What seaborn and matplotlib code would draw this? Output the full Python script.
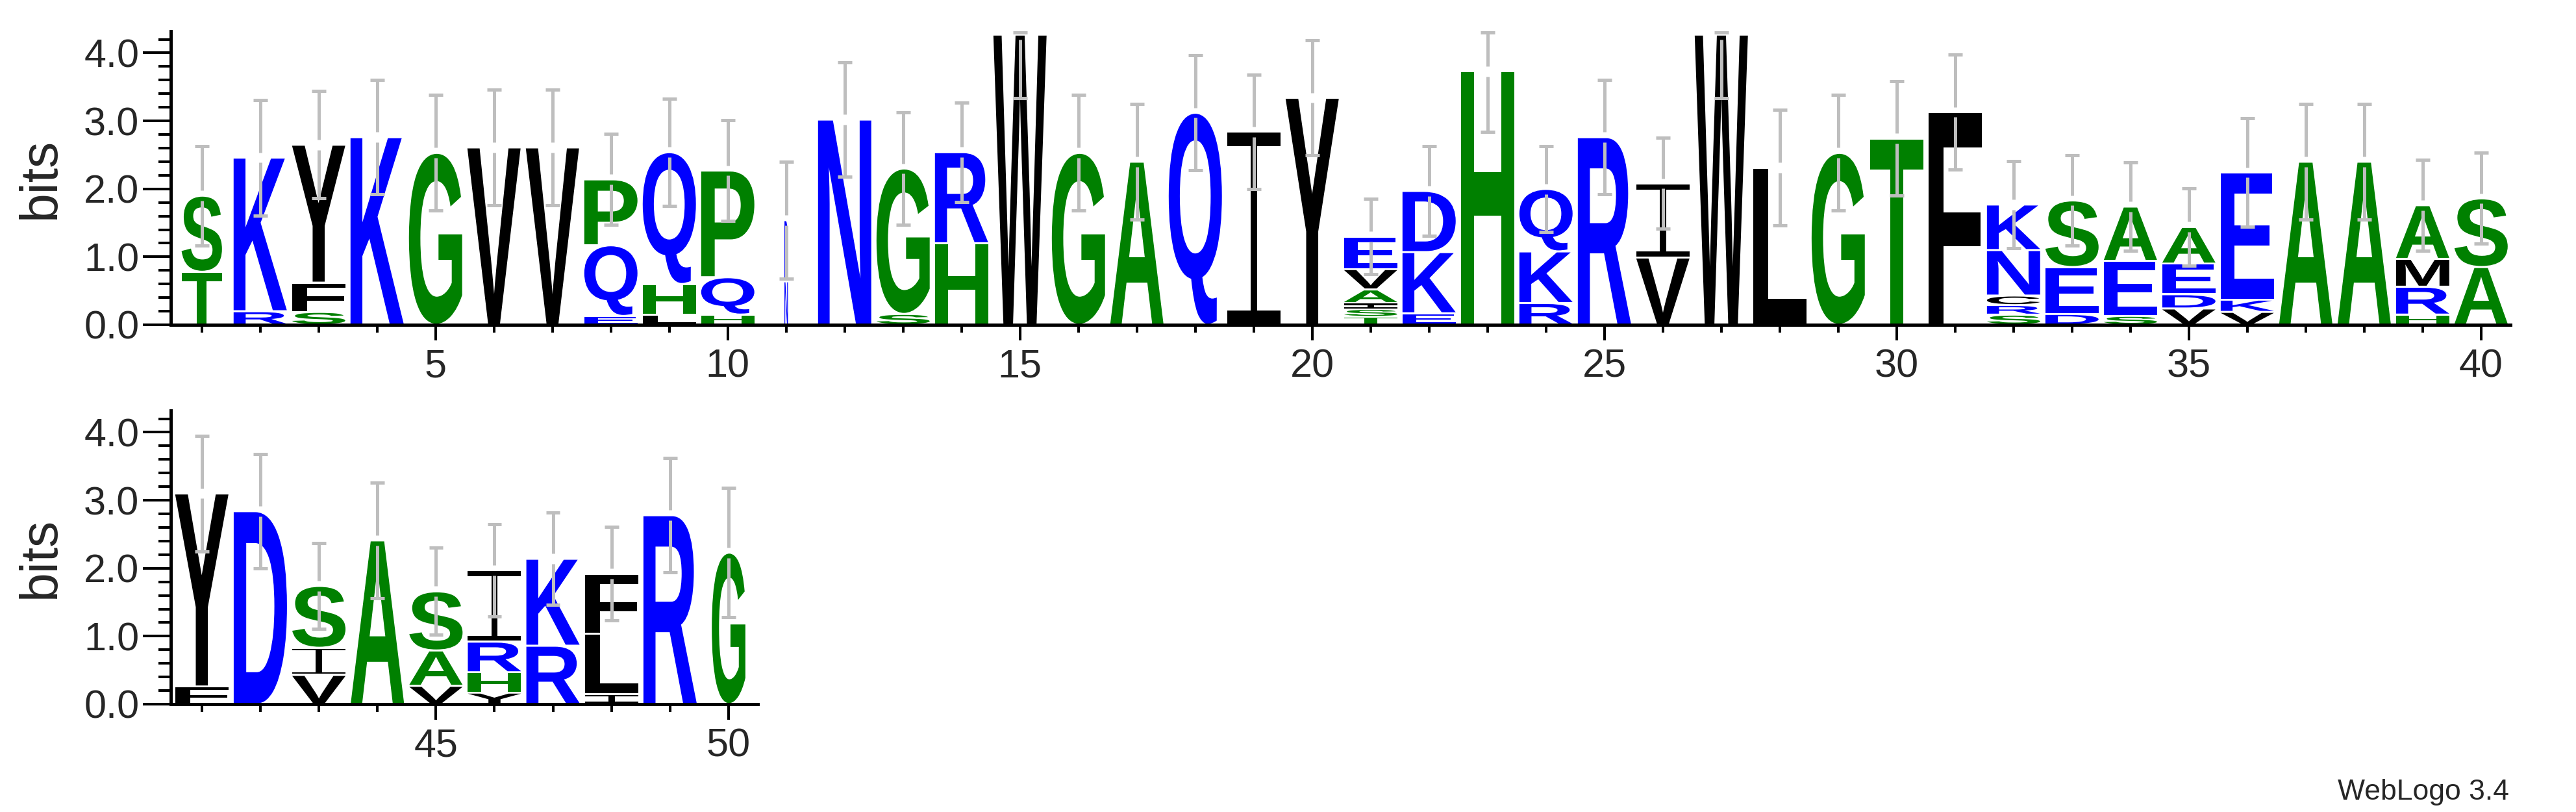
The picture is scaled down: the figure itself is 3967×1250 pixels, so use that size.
import matplotlib
matplotlib.use("Agg")
import matplotlib.pyplot as plt
import seaborn as sns
from matplotlib.textpath import TextPath
from matplotlib.path import Path
from matplotlib.patches import PathPatch
from matplotlib.font_manager import FontProperties
from matplotlib.transforms import Affine2D
from matplotlib.ticker import MultipleLocator, FixedLocator

# Sequence logo data: letters listed bottom -> top, heights in bits
positions = list(range(1, 51))
stack_letters = [
    "TS", "RK", "SFY", "K", "G", "V", "V", "EQP", "LHQ", "HQP",
    "ND", "N", "SG", "HR", "W", "G", "A", "Q", "I", "Y",
    "TSIAVE", "EKD", "H", "RKQ", "R", "VI", "W", "L", "G", "T",
    "F", "SRCNK", "DES", "SEA", "VDEA", "VKE", "A", "A", "HRMA", "AS",
    "FY", "D", "VIS", "A", "VAS", "YHRI", "RK", "ILF", "R", "G",
]
stack_heights = [
    [0.78, 1.12], [0.20, 2.26], [0.19, 0.43, 2.03], [2.76], [2.53],
    [2.61], [2.61], [0.13, 1.04, 0.97], [0.15, 0.45, 1.94], [0.15, 0.55, 1.57],
    [0.64, 0.90], [3.02], [0.16, 2.14], [1.20, 1.34], [4.27],
    [2.53], [2.40], [3.12], [2.84], [3.34],
    [0.12, 0.11, 0.09, 0.20, 0.30, 0.48], [0.17, 0.90, 0.90], [3.73], [0.32, 0.76, 0.92], [2.76],
    [0.99, 1.09], [4.27], [2.31], [2.53], [2.74],
    [3.13], [0.15, 0.14, 0.14, 0.67, 0.67], [0.16, 0.69, 0.98], [0.13, 0.81, 0.80], [0.24, 0.21, 0.45, 0.54],
    [0.19, 0.18, 1.87], [2.40], [2.40], [0.15, 0.41, 0.41, 0.79], [0.85, 1.01],
    [0.26, 2.84], [2.84], [0.43, 0.40, 0.91], [2.41], [0.27, 0.52, 0.87],
    [0.17, 0.30, 0.45, 1.05], [0.86, 1.28], [0.15, 0.89, 0.88], [2.78], [2.23],
]
stack_errors = [
    0.73, 0.85, 0.79, 0.84, 0.85, 0.85, 0.85, 0.67, 0.79, 0.74,
    0.86, 0.84, 0.83, 0.73, 0.93, 0.85, 0.85, 0.85, 0.84, 0.85,
    0.55, 0.66, 0.89, 0.63, 0.84, 0.67, 0.93, 0.85, 0.85, 0.84,
    0.85, 0.64, 0.66, 0.65, 0.57, 0.80, 0.85, 0.85, 0.67, 0.67,
    0.85, 0.84, 0.63, 0.85, 0.64, 0.68, 0.68, 0.69, 0.84, 0.95,
]
# fraction of non-gap symbols (WebLogo scales stack width by it)
stack_widths = [0.76] + [1.0] * 9 + [0.065] + [1.0] * 38 + [0.63]

# hydrophobicity colour scheme
colors = {}
for c in "RKDENQ":
    colors[c] = "#0000ff"
for c in "SGHTAP":
    colors[c] = "#008000"
for c in "YVMCLFIW":
    colors[c] = "#000000"

sns.set_style("ticks")
plt.rcParams['font.family'] = ['Liberation Sans', 'DejaVu Sans']

letter_font = FontProperties(family='Liberation Sans', weight='bold')
ymax = 4.32


def i_beam(x0, y0, w, h):
    # WebLogo draws I with bars at top and bottom
    b = max(0.07 * h, 0.02)
    s = 0.06 * w
    xc = x0 + w / 2
    verts = [
        (x0, y0), (x0 + w, y0), (x0 + w, y0 + b), (xc + s, y0 + b),
        (xc + s, y0 + h - b), (x0 + w, y0 + h - b), (x0 + w, y0 + h), (x0, y0 + h),
        (x0, y0 + h - b), (xc - s, y0 + h - b), (xc - s, y0 + b), (x0, y0 + b), (x0, y0),
    ]
    codes = [Path.MOVETO] + [Path.LINETO] * 11 + [Path.CLOSEPOLY]
    return Path(verts, codes)


def draw_letter(ax, ch, x, y0, h, w):
    pad = min(0.015, h * 0.1)
    hh = h - 2 * pad
    if ch == "I":
        path = i_beam(x - w / 2, y0 + pad, w, hh)
    else:
        tp = TextPath((0, 0), ch, size=1, prop=letter_font)
        bb = tp.get_extents()
        tr = Affine2D().translate(-bb.x0, -bb.y0).scale(w / bb.width, hh / bb.height).translate(x - w / 2, y0 + pad)
        path = tr.transform_path(tp)
    ax.add_patch(PathPatch(path, facecolor=colors[ch], edgecolor='none', lw=0, zorder=2))


def draw_stack(ax, i):
    x = positions[i]
    w = 0.91 * stack_widths[i]
    y = 0.0
    for ch, h in zip(stack_letters[i], stack_heights[i]):
        draw_letter(ax, ch, x, y, h, w)
        y += h
    # error bar with a small gap at the stack top
    err = stack_errors[i]
    gap = 0.075
    upper = min(y + err, 4.30)
    lower = max(y - err, 0.0)
    kw = dict(color='#bebebe', lw=3.6, zorder=3, solid_capstyle='butt')
    if upper > y + gap:
        ax.plot([x, x], [y + gap, upper], **kw)
    ax.plot([x - 0.12, x + 0.12], [upper, upper], **kw)
    ax.plot([x, x], [lower, y - gap], **kw)
    ax.plot([x - 0.12, x + 0.12], [lower, lower], **kw)


def style_axis(ax, lo, hi, major):
    ax.set_xlim(lo - 0.53, hi + 0.5)
    ax.set_ylim(0, ymax)
    sns.despine(ax=ax)
    for s in ['left', 'bottom']:
        ax.spines[s].set_linewidth(3.6)
        ax.spines[s].set_color('black')
    ax.yaxis.set_major_locator(FixedLocator([0, 1, 2, 3, 4]))
    ax.set_yticklabels(["0.0", "1.0", "2.0", "3.0", "4.0"])
    ax.yaxis.set_minor_locator(MultipleLocator(0.2))
    ax.xaxis.set_major_locator(FixedLocator(major))
    ax.set_xticklabels([str(m) for m in major])
    ax.xaxis.set_minor_locator(FixedLocator(list(range(lo, hi + 1))))
    ax.tick_params(axis='y', which='major', length=31, width=2.9, labelsize=44, pad=4, color='black')
    ax.tick_params(axis='y', which='minor', length=14, width=2.9, color='black')
    ax.tick_params(axis='x', which='major', length=17, width=2.9, labelsize=44, pad=9, color='black')
    ax.tick_params(axis='x', which='minor', length=8.5, width=2.9, color='black')
    ax.set_ylabel('bits', fontsize=58)


fig = plt.figure(figsize=(39.67, 12.5), dpi=100)
ax1 = fig.add_axes([0.0663, 0.600, 0.9082, 0.3616])
ax2 = fig.add_axes([0.0663, 0.1328, 0.2279, 0.3616])

for i in range(40):
    draw_stack(ax1, i)
for i in range(40, 50):
    draw_stack(ax2, i)

style_axis(ax1, 1, 40, [5, 10, 15, 20, 25, 30, 35, 40])
style_axis(ax2, 41, 50, [45, 50])
ax1.yaxis.set_label_coords((101 - 263) / 3603, 0.5)
ax2.yaxis.set_label_coords((101 - 263) / 904, 0.5)

fig.text(0.974, 0.015, 'WebLogo 3.4', ha='right', va='baseline', fontsize=32)

fig.savefig('out.png', dpi=100, facecolor='white')
